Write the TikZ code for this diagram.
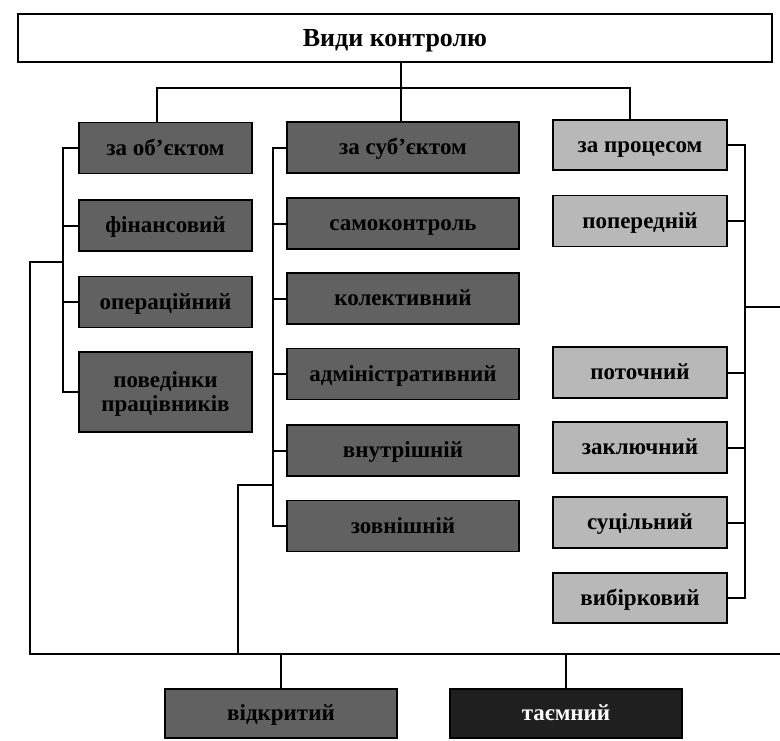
\documentclass[tikz,border=0pt]{standalone}
\usepackage{fontspec}
\setmainfont{Liberation Serif}
\begin{document}
\begin{tikzpicture}[x=1pt,y=-1pt,
  base/.style={draw=black, line width=1.6pt, inner sep=0pt, align=center,
    text height=16pt, text depth=2pt,
    font=\fontsize{23}{24}\selectfont\bfseries},
  darkbox/.style={base, fill=black!62, text=black},
  lightbox/.style={base, fill=black!28, text=black},
  blackbox/.style={base, fill=black!88, text=white},
  conn/.style={line width=2pt, line cap=rect},
  lw/.style={minimum width=173pt},
  mw/.style={minimum width=232pt},
  rw/.style={minimum width=174pt},
  hh/.style={minimum height=51pt}]
\useasboundingbox (0,0) rectangle (780,740);
% top
\node[draw=black, line width=2pt, fill=white, minimum width=754pt, minimum height=48pt,
  text height=18pt, text depth=2pt, inner sep=0pt,
  font=\fontsize{26}{26}\selectfont\bfseries] (top) at (395,38) {Види контролю};
% left column
\node[darkbox, lw, hh] (l1) at (165.5,148) {за об'єктом};
\node[darkbox, lw, hh] (l2) at (165.5,225.5) {фінансовий};
\node[darkbox, lw, hh] (l3) at (165.5,302) {операційний};
\node[darkbox, lw, minimum height=80pt, text height=40pt, text depth=2pt] (l4) at (165.5,392) {поведінки\\працівників};
% middle column
\node[darkbox, mw, hh] (m1) at (403,147.5) {за суб'єктом};
\node[darkbox, mw, hh] (m2) at (403,223.5) {самоконтроль};
\node[darkbox, mw, hh] (m3) at (403,298.5) {колективний};
\node[darkbox, mw, hh] (m4) at (403,374) {адміністративний};
\node[darkbox, mw, hh] (m5) at (403,450.5) {внутрішній};
\node[darkbox, mw, hh] (m6) at (403,526) {зовнішній};
% right column
\node[lightbox, rw, minimum height=50pt] (r1) at (640,145) {за процесом};
\node[lightbox, rw, hh] (r2) at (640,221) {попередній};
\node[lightbox, rw, hh] (r3) at (640,372.5) {поточний};
\node[lightbox, rw, hh] (r4) at (640,447.5) {заключний};
\node[lightbox, rw, hh] (r5) at (640,522.5) {суцільний};
\node[lightbox, rw, minimum height=50pt] (r6) at (640,598) {вибірковий};
% bottom
\node[darkbox, mw, minimum height=49pt] (b1) at (281,713.5) {відкритий};
\node[blackbox, mw, minimum height=49pt] (b2) at (566,713.5) {таємний};
% coordinates
\coordinate (jl) at (157,88);
\coordinate (jr) at (630,88);
\coordinate (lv) at (63,0);
\coordinate (mv) at (273,0);
\coordinate (rv) at (745,0);
\coordinate (ov) at (30,0);
\coordinate (bv) at (238,0);
\coordinate (re) at (780,307);
\coordinate (bl) at (30,654);
\coordinate (br) at (780,654);
\coordinate (lj) at (0,262);
\coordinate (mj) at (0,485);
% top connectors
\draw[conn] (top.south -| 401,0) -- (m1.north -| 401,0);
\draw[conn] (jl) -- (jr);
\draw[conn] (jl) -- (jl |- l1.north);
\draw[conn] (jr) -- (jr |- r1.north);
% left column
\draw[conn] (lv |- l1) -- (lv |- l4);
\foreach \n in {l1,l2,l3,l4} \draw[conn] (lv |- \n) -- (\n.west);
% middle column
\draw[conn] (mv |- m1) -- (mv |- m6);
\foreach \n in {m1,m2,m3,m4,m5,m6} \draw[conn] (mv |- \n) -- (\n.west);
% right column
\draw[conn] (rv |- r1) -- (rv |- r6);
\foreach \n in {r1,r2,r3,r4,r5,r6} \draw[conn] (\n.east) -- (rv |- \n);
\draw[conn] (rv |- re) -- (re);
% outer links
\draw[conn] (lv |- lj) -- (ov |- lj) -- (bl);
\draw[conn] (mv |- mj) -- (bv |- mj) -- (bv |- bl);
\draw[conn] (bl) -- (br);
\draw[conn] (b1.north |- bl) -- (b1.north);
\draw[conn] (b2.north |- bl) -- (b2.north);
\end{tikzpicture}
\end{document}
